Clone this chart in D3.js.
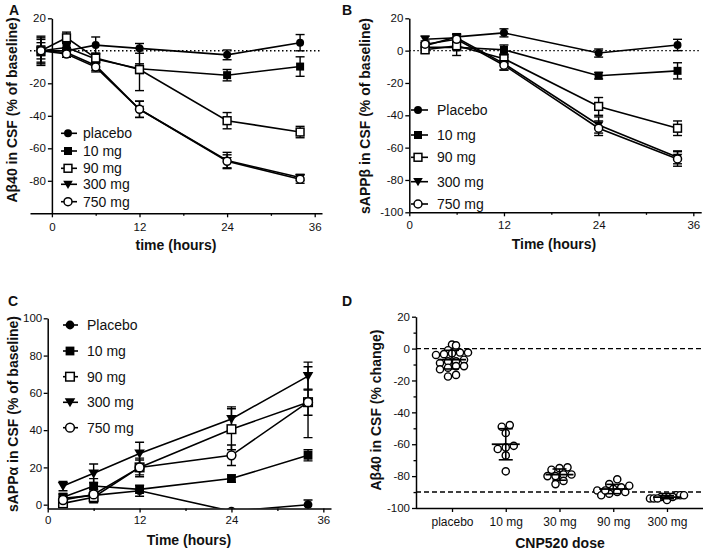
<!DOCTYPE html>
<html><head><meta charset="utf-8">
<script src="https://cdn.jsdelivr.net/npm/d3@7"></script>
<style>
body{margin:0;background:#fff}
svg text{font-family:Arial,"Liberation Sans",Helvetica,sans-serif;fill:#111}
</style>
</head><body><svg id="c" width="709" height="552"></svg>
<script>
// ---------------- DATA ----------------
const seriesA = ["placebo","10 mg","90 mg","300 mg","750 mg"];
const seriesBC = ["Placebo","10 mg","90 mg","300 mg","750 mg"];
const markerTypes = ["circleFilled","squareFilled","squareOpen","triangleDown","circleOpen"];

const timesA = [-1.5, 2, 6, 12, 24, 34];
const placeboA = [0, 0, 3.5, 1.5, -2.5, 5];
const mg10A    = [0, 2, -5, -11, -15, -9.7];
const mg90A    = [0, 8, -4.5, -11.5, -43, -50];
const mg300A   = [0, -1, -9, -36, -67.5, -78];
const mg750A   = [0, -2, -10, -36, -68, -79];
const errPlaceboA = [9, 2, 5, 3, 3, 5];
const err10A      = [7, 3, 3, 3, 3.5, 6];
const err90A      = [5, 3.5, 3, 13, 5, 3.5];
const err300A     = [3, 2, 3, 5, 5, 2];
const err750A     = [8, 2, 3, 5, 4, 2.5];

const timesB = [2, 6, 12, 24, 34];
const placeboB = [3, 8.5, 11, -1.5, 3.5];
const mg10B    = [2, 2, 0.5, -15.5, -12.5];
const mg90B    = [0.5, 3, -5, -34.5, -48];
const mg300B   = [7, 8, -8, -46, -66];
const mg750B   = [4, 7, -9, -48, -67];
const errPlaceboB = [2, 2, 2.5, 2.5, 3.5];
const err10B      = [2, 5, 3, 2, 5];
const err90B      = [2, 2, 3, 5.5, 4.5];
const err300B     = [2, 2, 4, 5, 4];
const err750B     = [2, 2, 3, 4.5, 4.5];

const timesC = [2, 6, 12, 24, 34];
const placeboC = [3.4, 5, 7.5, -3.5, 0];
const mg10C    = [4, 10, 8.2, 14, 26.5];
const mg90C    = [0.7, 4, 20, 40.5, 55];
const mg300C   = [10, 16.8, 27.5, 46, 69];
const mg750C   = [2.5, 5.5, 20, 26.5, 55];
const errPlaceboC = [2, 3, 3, 1, 2.5];
const err10C      = [2, 4, 2, 2, 3];
const err90C      = [2, 3, 5, 11, 7];
const err300C     = [2.5, 5, 6, 6.5, 7.5];
const err750C     = [2, 3, 4, 5.5, 19];

const doseCategories = ["placebo","10 mg","30 mg","90 mg","300 mg"];
const dosePlacebo = [2.5, 2, -1, -2.5, -3.5, -3, -2.5, -4, -7, -8, -8, -9, -11, -13, -11, -12, -17.5, -16.5];
const dose10  = [-48, -49, -53, -61, -63, -62, -67, -77];
const dose30  = [-75, -76, -74.5, -79, -80, -79, -80, -85, -83];
const dose90  = [-82, -85, -87, -86, -88, -89, -90, -90, -91, -92, -89];
const dose300 = [-92, -92, -93, -93, -93, -94, -94, -94, -95, -93, -92];

const tickTimes = [0, 12, 24, 36];
const minorTimes = [6, 18, 30];
const ticksAB = [20, 0, -20, -40, -60, -80];
const ticksB = [20, 0, -20, -40, -60, -80, -100];
const ticksC = [0, 20, 40, 60, 80, 100];
const ticksD = [20, 0, -20, -40, -60, -80, -100];
const minorD = [10, -10, -30, -50, -70, -90];

// ---------------- HELPERS ----------------
const svg = d3.select("#c");
svg.append("rect").attr("width",709).attr("height",552).attr("fill","#fff");
const defs = svg.append("defs");

function drawMarker(g, type, cx, cy, s) {
  s = s || 1;
  if (type === "circleFilled") g.append("circle").attr("cx",cx).attr("cy",cy).attr("r",4*s).attr("fill","#000");
  else if (type === "circleOpen") g.append("circle").attr("cx",cx).attr("cy",cy).attr("r",4*s).attr("fill","#fff").attr("stroke","#000").attr("stroke-width",1.5);
  else if (type === "squareFilled") g.append("rect").attr("x",cx-4*s).attr("y",cy-4*s).attr("width",8*s).attr("height",8*s).attr("fill","#000");
  else if (type === "squareOpen") g.append("rect").attr("x",cx-3.9*s).attr("y",cy-3.9*s).attr("width",7.8*s).attr("height",7.8*s).attr("fill","#fff").attr("stroke","#000").attr("stroke-width",1.5);
  else if (type === "triangleDown") g.append("path").attr("d",`M${cx-4.8*s},${cy-3.6*s}L${cx+4.8*s},${cy-3.6*s}L${cx},${cy+4.6*s}Z`).attr("fill","#000");
}

function styleAxis(ax, fs) {
  ax.select(".domain").attr("stroke","#000").attr("stroke-width",1.5);
  ax.selectAll(".tick line").attr("stroke","#000").attr("stroke-width",1.3);
  ax.selectAll(".tick text").attr("font-size",fs||11.5).attr("fill","#111");
}

function linePanel(g, times, values, errors, x, y, s) {
  const line = d3.line().x((d,i)=>x(times[i])).y(d=>y(d));
  values.forEach((vals) => {
    g.append("path").datum(vals).attr("d",line).attr("fill","none").attr("stroke","#000").attr("stroke-width",1.6);
  });
  values.forEach((vals, k) => {
    vals.forEach((v,i) => {
      const e = errors[k][i], px = x(times[i]);
      const y0 = y(v-e), y1 = y(v+e);
      g.append("line").attr("x1",px).attr("x2",px).attr("y1",y0).attr("y2",y1).attr("stroke","#000").attr("stroke-width",1.4);
      [y0,y1].forEach(yy => g.append("line").attr("x1",px-4.5).attr("x2",px+4.5).attr("y1",yy).attr("y2",yy).attr("stroke","#000").attr("stroke-width",1.4));
    });
  });
  values.forEach((vals, k) => {
    vals.forEach((v,i) => drawMarker(g, markerTypes[k], x(times[i]), y(v), s));
  });
}

function legend(g, names, lx0, lx1, mx, tx, ys, s) {
  names.forEach((n,i) => {
    g.append("line").attr("x1",lx0).attr("x2",lx1).attr("y1",ys[i]).attr("y2",ys[i]).attr("stroke","#000").attr("stroke-width",1.6);
    drawMarker(g, markerTypes[i], mx, ys[i], s);
    g.append("text").attr("x",tx).attr("y",ys[i]+5).attr("font-size",14).text(n);
  });
}

function timeXAxis(g, x, yPos, pad) {
  const ax = g.append("g").attr("transform",`translate(0,${yPos})`)
    .call(d3.axisBottom(x).tickValues(tickTimes).tickSize(4).tickPadding(pad).tickSizeOuter(0).tickFormat(d=>d));
  styleAxis(ax);
  const mn = g.append("g").attr("transform",`translate(0,${yPos})`)
    .call(d3.axisBottom(x).tickValues(minorTimes).tickSize(2.5).tickSizeOuter(0).tickFormat(""));
  mn.select(".domain").remove();
  mn.selectAll(".tick line").attr("stroke","#000").attr("stroke-width",1.3);
}

function yTitle(g, txt, bx, cy) {
  g.append("text").attr("transform",`translate(${bx},${cy}) rotate(-90)`).attr("text-anchor","middle")
    .attr("font-size",14).attr("font-weight","bold").text(txt);
}
function xTitle(g, txt, cx, by) {
  g.append("text").attr("x",cx).attr("y",by).attr("text-anchor","middle").attr("font-size",14).attr("font-weight","bold").text(txt);
}
function panelLetter(g, t, x, y) {
  g.append("text").attr("x",x).attr("y",y).attr("font-size",14).attr("font-weight","bold").text(t);
}

// ---------------- PANEL A ----------------
{
  const g = svg.append("g");
  const x = d3.scaleLinear().domain([-3,37]).range([30,322]);
  const y = d3.scaleLinear().domain([-100,20]).range([213.3,18.3]);
  g.append("line").attr("x1",x(-3)).attr("x2",x(37)).attr("y1",y(0)).attr("y2",y(0))
    .attr("stroke","#000").attr("stroke-width",1.4).attr("stroke-dasharray","1.5,2.5");
  const ay = g.append("g").attr("transform",`translate(${x(0)},0)`)
    .call(d3.axisLeft(y).tickValues(ticksAB).tickSize(4).tickPadding(2).tickSizeOuter(0).tickFormat(d=>d));
  styleAxis(ay);
  timeXAxis(g, x, y(-100), 6);
  linePanel(g, timesA, [placeboA, mg10A, mg90A, mg300A, mg750A],
    [errPlaceboA, err10A, err90A, err300A, err750A], x, y, 1);
  legend(g, seriesA, 61, 77, 68, 83, [133.3, 151, 168.3, 184.3, 201.7], 1);
  yTitle(g, "Aβ40 in CSF (% of baseline)", 16.5, 110);
  xTitle(g, "time (hours)", 176, 249.5);
  panelLetter(g, "A", 9, 15);
}

// ---------------- PANEL B ----------------
{
  const g = svg.append("g");
  const x = d3.scaleLinear().domain([0,37]).range([409.3,701.2]);
  const y = d3.scaleLinear().domain([-100,20]).range([212.3,18.3]);
  g.append("line").attr("x1",x(0)).attr("x2",x(37)).attr("y1",y(0)).attr("y2",y(0))
    .attr("stroke","#000").attr("stroke-width",1.4).attr("stroke-dasharray","1.5,2.5");
  const ay = g.append("g").attr("transform",`translate(${x(0)},0)`)
    .call(d3.axisLeft(y).tickValues(ticksB).tickSize(4).tickPadding(2).tickSizeOuter(0).tickFormat(d=>d));
  styleAxis(ay);
  timeXAxis(g, x, y(-100), 5);
  linePanel(g, timesB, [placeboB, mg10B, mg90B, mg300B, mg750B],
    [errPlaceboB, err10B, err90B, err300B, err750B], x, y, 1);
  legend(g, seriesBC, 411, 428, 418, 437, [110, 135, 157.3, 181.7, 204], 1);
  yTitle(g, "sAPPβ in CSF (% of baseline)", 370, 116);
  xTitle(g, "Time (hours)", 554, 249);
  panelLetter(g, "B", 342, 15);
}

// ---------------- PANEL C ----------------
{
  const g = svg.append("g");
  const x = d3.scaleLinear().domain([0,37]).range([47.7,331]);
  const y = d3.scaleLinear().domain([-2,100]).range([508.4,318.3]);
  defs.append("clipPath").attr("id","clipC").append("rect")
    .attr("x",x(0)-10).attr("y",y(100)-40).attr("width",x(37)-x(0)+20).attr("height",y(-2)-y(100)+40);
  const ay = g.append("g").attr("transform",`translate(${x(0)},0)`)
    .call(d3.axisLeft(y).tickValues(ticksC).tickSize(4).tickPadding(1.5).tickSizeOuter(0).tickFormat(d=>d));
  styleAxis(ay);
  const plot = g.append("g").attr("clip-path","url(#clipC)");
  linePanel(plot, timesC, [placeboC, mg10C, mg90C, mg300C, mg750C],
    [errPlaceboC, err10C, err90C, err300C, err750C], x, y, 1.1);
  timeXAxis(g, x, y(-2), 3);
  legend(g, seriesBC, 63, 78, 70, 87, [325, 351, 376.7, 402.3, 427.7], 1.1);
  yTitle(g, "sAPPα in CSF (% of baseline)", 17.5, 414);
  xTitle(g, "Time (hours)", 189, 545);
  panelLetter(g, "C", 8, 306);
}

// ---------------- PANEL D ----------------
{
  const g = svg.append("g");
  const x = d3.scalePoint().domain(doseCategories).range([416,703]).padding(0.67);
  const y = d3.scaleLinear().domain([-100,20]).range([508,316.7]);
  [0,-90].forEach(v => g.append("line").attr("x1",416).attr("x2",703).attr("y1",y(v)).attr("y2",y(v))
    .attr("stroke","#000").attr("stroke-width",1.4).attr("stroke-dasharray","5,3"));
  const ay = g.append("g").attr("transform","translate(416,0)")
    .call(d3.axisLeft(y).tickValues(ticksD).tickSize(4).tickPadding(2).tickSizeOuter(0).tickFormat(d=>d));
  styleAxis(ay);
  const mn = g.append("g").attr("transform","translate(416,0)")
    .call(d3.axisLeft(y).tickValues(minorD).tickSize(2.5).tickFormat(""));
  mn.select(".domain").remove();
  mn.selectAll(".tick line").attr("stroke","#000").attr("stroke-width",1.3);
  const ax = g.append("g").attr("transform",`translate(0,${y(-100)})`)
    .call(d3.axisBottom(x).tickSize(4).tickPadding(5).tickSizeOuter(0));
  ax.select(".domain").attr("d","M416,0.5H703");
  styleAxis(ax, 12);

  const groups = [dosePlacebo, dose10, dose30, dose90, dose300];
  const r = 3.6, binH = 7, maxSpacing = 8, halfWidth = 17;
  groups.forEach((vals, gi) => {
    const cx = x(doseCategories[gi]);
    const pts = vals.map(v => ({v, py: y(v), dx: 0}));
    const bins = d3.groups(pts, p => Math.floor((p.py - y(20)) / binH));
    bins.forEach(([, arr]) => {
      arr.sort((a,b)=>a.v-b.v);
      const n = arr.length;
      const sp = n > 1 ? Math.min(maxSpacing, 2*halfWidth/(n-1)) : 0;
      arr.forEach((p,i) => { p.dx = (i - (n-1)/2) * sp; });
    });
    pts.forEach(p => g.append("circle").attr("cx",cx+p.dx).attr("cy",p.py).attr("r",r)
      .attr("fill","#fff").attr("stroke","#000").attr("stroke-width",1.4));
    const m = d3.mean(vals), sd = d3.deviation(vals);
    g.append("line").attr("x1",cx-14).attr("x2",cx+14).attr("y1",y(m)).attr("y2",y(m)).attr("stroke","#000").attr("stroke-width",1.8);
    g.append("line").attr("x1",cx).attr("x2",cx).attr("y1",y(m+sd)).attr("y2",y(m-sd)).attr("stroke","#000").attr("stroke-width",1.6);
    [m+sd, m-sd].forEach(v => g.append("line").attr("x1",cx-7).attr("x2",cx+7).attr("y1",y(v)).attr("y2",y(v)).attr("stroke","#000").attr("stroke-width",1.6));
  });
  yTitle(g, "Aβ40 in CSF (% change)", 381, 410);
  xTitle(g, "CNP520 dose", 560, 548);
  panelLetter(g, "D", 342, 306);
}
</script>
</body></html>
